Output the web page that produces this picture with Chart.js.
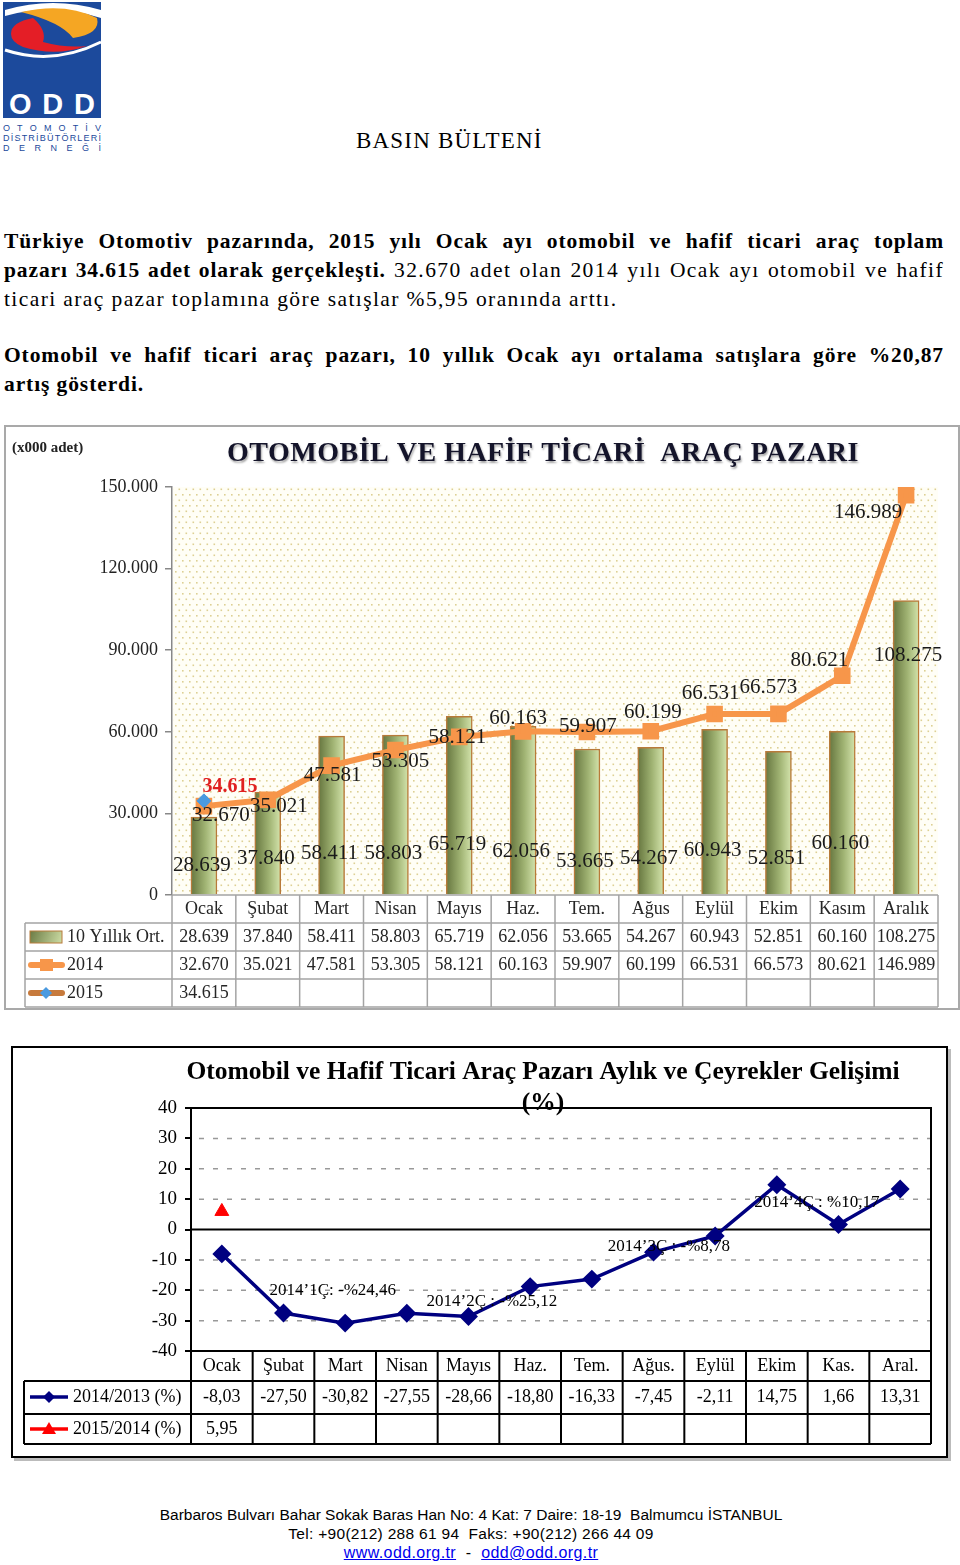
<!DOCTYPE html>
<html>
<head>
<meta charset="utf-8">
<title>Basın Bülteni</title>
<script src="https://cdn.jsdelivr.net/npm/chart.js@4.4.1/dist/chart.umd.min.js"></script>
<style>
  body { margin:0; width:960px; height:1565px; position:relative; background:#fff; font-family:"Liberation Serif", serif; color:#000; overflow:hidden; }
  .abs { position:absolute; }
  .line { position:absolute; left:4px; width:940px; font-size:21.5px; line-height:29px; letter-spacing:1.4px; white-space:nowrap; }
  .line b { letter-spacing:0.9px; }
  .just { text-align:justify; text-align-last:justify; }
  #box1 { left:4px; top:425px; width:956px; height:585px; border:2px solid #a9a9a9; box-sizing:border-box; }
  #box2 { left:11px; top:1046px; width:937px; height:412px; border:2px solid #000; box-sizing:border-box; box-shadow:3px 3px 0 #bbb; }
  .foot { position:absolute; left:0; width:942px; text-align:center; font-family:"Liberation Sans", sans-serif; font-size:15.5px; line-height:19px; }
  .foot a { color:#0000ee; }
</style>
</head>
<body>

<!-- logo -->
<svg class="abs" style="left:3px;top:2px" width="100" height="150">
  <rect x="0" y="0" width="98" height="116" fill="#1c4a9c"/>
  <path d="M2,8 Q50,-6 98,8 L98,16 Q50,0 2,14 Z" fill="#fff"/>
  <path d="M18,10 Q62,0 94,16 Q98,32 70,36 Q58,20 18,10 Z" fill="#f5a623"/>
  <path d="M8,32 Q8,20 30,16 Q44,28 40,40 Q62,46 84,44 Q52,55 20,45 Q8,40 8,32 Z" fill="#e41e26"/>
  <path d="M2,48 Q50,64 98,40" stroke="#fff" stroke-width="3" fill="none"/>
  <text x="6" y="112" fill="#fff" font-family="Liberation Sans" font-weight="bold" font-size="29" textLength="86">ODD</text>
  <text x="0" y="129" fill="#1c4a9c" font-family="Liberation Sans" font-size="9" textLength="98">O T O M O T İ V</text>
  <text x="0" y="139" fill="#1c4a9c" font-family="Liberation Sans" font-size="9" textLength="98">DİSTRİBÜTÖRLERİ</text>
  <text x="0" y="149" fill="#1c4a9c" font-family="Liberation Sans" font-size="9" textLength="98">D E R N E Ğ İ</text>
</svg>

<div class="abs" style="left:356px;top:128px;font-size:23px;letter-spacing:1.2px;">BASIN BÜLTENİ</div>

<div class="line just" style="top:227px;"><b>Türkiye Otomotiv pazarında, 2015 yılı Ocak ayı otomobil ve hafif ticari araç toplam</b></div>
<div class="line just" style="top:256px;"><b>pazarı 34.615 adet olarak gerçekleşti.</b> 32.670 adet olan 2014 yılı Ocak ayı otomobil ve hafif</div>
<div class="line" style="top:285px;">ticari araç pazar toplamına göre satışlar %5,95 oranında arttı.</div>
<div class="line just" style="top:341px;"><b>Otomobil ve hafif ticari araç pazarı, 10 yıllık Ocak ayı ortalama satışlara göre %20,87</b></div>
<div class="line" style="top:370px;"><b>artış gösterdi.</b></div>

<div id="box1" class="abs"><canvas id="c1" width="952" height="581"></canvas></div>
<div id="box2" class="abs"><canvas id="c2" width="933" height="408"></canvas></div>

<div class="foot" style="top:1505px;">Barbaros Bulvarı Bahar Sokak Baras Han No: 4 Kat: 7 Daire: 18-19&nbsp; Balmumcu İSTANBUL</div>
<div class="foot" style="top:1524px;letter-spacing:0.3px;">Tel: +90(212) 288 61 94&nbsp; Faks: +90(212) 266 44 09</div>
<div class="foot" style="top:1543px;font-size:16px;letter-spacing:0.4px;"><a href="#">www.odd.org.tr</a>&nbsp; -&nbsp; <a href="#">odd@odd.org.tr</a></div>

<script>
// --- chart 1 data ---
var months1 = ['Ocak','Şubat','Mart','Nisan','Mayıs','Haz.','Tem.','Ağus','Eylül','Ekim','Kasım','Aralık'];
var avg10 = [28639,37840,58411,58803,65719,62056,53665,54267,60943,52851,60160,108275];
var sales2014 = [32670,35021,47581,53305,58121,60163,59907,60199,66531,66573,80621,146989];
var sales2015 = [34615,null,null,null,null,null,null,null,null,null,null,null];
var yTicks1 = [0,30000,60000,90000,120000,150000];

// --- chart 2 data ---
var months2 = ['Ocak','Şubat','Mart','Nisan','Mayıs','Haz.','Tem.','Ağus.','Eylül','Ekim','Kas.','Aral.'];
var chg2014 = [-8.03,-27.50,-30.82,-27.55,-28.66,-18.80,-16.33,-7.45,-2.11,14.75,1.66,13.31];
var chg2015 = [5.95,null,null,null,null,null,null,null,null,null,null,null];
var yTicks2 = [-40,-30,-20,-10,0,10,20,30,40];
var quarterNotes = ['2014’1Ç: -%24,46','2014’2Ç : -%25,12','2014’3Ç : -%8,78','2014’4Ç : %10,17'];

var SERIF = '"Liberation Serif", serif';

function thousands(n) { return String(n).replace(/\B(?=(\d{3})+(?!\d))/g, '.'); }
function comma(n) { return n.toFixed(2).replace('.', ','); }

function barGrad(c) {
  var ch = c.chart;
  if (!ch.chartArea) return '#9aab6a';
  var x = ch.scales.x.getPixelForValue(c.dataIndex);
  var g = ch.ctx.createLinearGradient(x - 13, 0, x + 13, 0);
  g.addColorStop(0, '#66763f');
  g.addColorStop(0.55, '#a0b373');
  g.addColorStop(1, '#d4e4ad');
  return g;
}

function dotPattern(ctx) {
  var p = document.createElement('canvas');
  p.width = 7; p.height = 11;
  var g = p.getContext('2d');
  g.fillStyle = '#fffef6'; g.fillRect(0, 0, 7, 11);
  g.fillStyle = '#ddd093';
  g.fillRect(1, 1, 1.6, 1.6);
  g.fillRect(4.5, 6.5, 1.6, 1.6);
  return ctx.createPattern(p, 'repeat');
}

// label placement tweaks (pixels), bars measured from the x axis, line labels from the point
var barLabelRise = [30, 37, 42, 42, 51, 44, 34, 37, 45, 37, 52, 240];
var lineLabelShift = [[17,9],[11,7],[1,10],[5,11],[-2,1],[-5,-13],[1,-6],[2,-19],[-4,-21],[-10,-26],[-23,-15],[-38,17]];

var chart1Deco = {
  id: 'chart1Deco',
  beforeDatasetsDraw: function(chart) {
    var a = chart.chartArea, ctx = chart.ctx;
    ctx.save();
    ctx.fillStyle = dotPattern(ctx);
    ctx.fillRect(a.left + 1, a.top, a.right - a.left - 1, a.bottom - a.top);
    ctx.restore();
  },
  afterDatasetsDraw: function(chart) {
    var ctx = chart.ctx, xs = chart.scales.x, ys = chart.scales.y;
    ctx.save();
    ctx.font = '21px ' + SERIF;
    ctx.textAlign = 'center';
    ctx.textBaseline = 'middle';
    ctx.fillStyle = '#1a1a1a';
    avg10.forEach(function(v, i) {
      ctx.fillText(thousands(v), xs.getPixelForValue(i) - 2 + (i == 11 ? 4 : 0), ys.getPixelForValue(0) - barLabelRise[i]);
    });
    sales2014.forEach(function(v, i) {
      ctx.fillText(thousands(v), xs.getPixelForValue(i) + lineLabelShift[i][0], ys.getPixelForValue(v) + lineLabelShift[i][1]);
    });
    ctx.font = 'bold 20px ' + SERIF;
    ctx.fillStyle = '#e02020';
    ctx.fillText(thousands(sales2015[0]), xs.getPixelForValue(0) + 26, ys.getPixelForValue(sales2015[0]) - 14);
    ctx.restore();
  },
  afterDraw: function(chart) {
    var ctx = chart.ctx, a = chart.chartArea, xs = chart.scales.x;
    ctx.save();
    // titles
    ctx.textBaseline = 'middle';
    ctx.font = 'bold 15px ' + SERIF;
    ctx.fillStyle = '#222';
    ctx.textAlign = 'left';
    ctx.fillText('(x000 adet)', 6, 21);
    ctx.font = 'bold 28px ' + SERIF;
    ctx.letterSpacing = '0.5px';
    ctx.textAlign = 'center';
    ctx.shadowColor = 'rgba(0,0,0,0.35)';
    ctx.shadowOffsetX = 1; ctx.shadowOffsetY = 2; ctx.shadowBlur = 2;
    ctx.fillStyle = '#14142a';
    ctx.fillText('OTOMOBİL VE HAFİF TİCARİ  ARAÇ PAZARI', 537, 27);
    ctx.shadowColor = 'transparent';
    ctx.letterSpacing = '0px';

    // data table
    var colW = (a.right - a.left) / months1.length;
    var top = a.bottom, rowH = 28, legL = 19;
    var rows = [top, top + rowH, top + 2 * rowH, top + 3 * rowH, top + 4 * rowH];
    ctx.strokeStyle = '#a4a4a4';
    ctx.lineWidth = 1.5;
    ctx.beginPath();
    for (var r = 1; r < rows.length; r++) { ctx.moveTo(legL, rows[r]); ctx.lineTo(a.right, rows[r]); }
    ctx.moveTo(a.left, rows[0]); ctx.lineTo(a.right, rows[0]);
    ctx.moveTo(legL, rows[1]); ctx.lineTo(legL, rows[4]);
    for (var c = 0; c <= months1.length; c++) {
      var x = a.left + c * colW;
      ctx.moveTo(x, rows[0]); ctx.lineTo(x, rows[4]);
    }
    ctx.stroke();

    ctx.fillStyle = '#262626';
    ctx.font = '18px ' + SERIF;
    ctx.textAlign = 'center';
    months1.forEach(function(m, i) {
      var cx = xs.getPixelForValue(i);
      ctx.fillText(m, cx, rows[0] + 14);
      ctx.fillText(thousands(avg10[i]), cx, rows[1] + 14);
      ctx.fillText(thousands(sales2014[i]), cx, rows[2] + 14);
      if (sales2015[i] != null) ctx.fillText(thousands(sales2015[i]), cx, rows[3] + 14);
    });

    // legend keys
    var ly1 = rows[1] + 14, ly2 = rows[2] + 14, ly3 = rows[3] + 14;
    var g = ctx.createLinearGradient(24, ly1 - 6, 56, ly1 + 6);
    g.addColorStop(0, '#6b7b44'); g.addColorStop(1, '#cddda5');
    ctx.fillStyle = g;
    ctx.fillRect(24, ly1 - 6, 32, 12);
    ctx.strokeStyle = '#b87a3a'; ctx.lineWidth = 1;
    ctx.strokeRect(24, ly1 - 6, 32, 12);

    ctx.strokeStyle = '#f7964a'; ctx.lineWidth = 6; ctx.lineCap = 'round';
    ctx.beginPath(); ctx.moveTo(25, ly2); ctx.lineTo(56, ly2); ctx.stroke();
    ctx.fillStyle = '#f7964a'; ctx.fillRect(34, ly2 - 6, 13, 12);

    ctx.strokeStyle = '#c77a3c';
    ctx.beginPath(); ctx.moveTo(25, ly3); ctx.lineTo(56, ly3); ctx.stroke();
    ctx.fillStyle = '#4a9ae0';
    ctx.beginPath(); ctx.moveTo(40, ly3 - 6); ctx.lineTo(46, ly3); ctx.lineTo(40, ly3 + 6); ctx.lineTo(34, ly3); ctx.closePath(); ctx.fill();

    ctx.fillStyle = '#262626';
    ctx.textAlign = 'left';
    ctx.fillText('10 Yıllık Ort.', 61, ly1);
    ctx.fillText('2014', 61, ly2);
    ctx.fillText('2015', 61, ly3);
    ctx.restore();
  }
};

new Chart(document.getElementById('c1'), {
  type: 'bar',
  data: {
    labels: months1,
    datasets: [
      { type: 'line', label: '2015', data: sales2015, order: 0, showLine: false,
        pointStyle: 'rectRot', pointRadius: 7, backgroundColor: '#4a9ae0', borderColor: '#4a9ae0' },
      { type: 'line', label: '2014', data: sales2014, order: 1, borderColor: '#f7964a', borderWidth: 6,
        pointStyle: 'rect', pointRadius: 7.5, backgroundColor: '#f7964a', pointBorderColor: '#f7964a', tension: 0 },
      { type: 'bar', label: '10 Yıllık Ort.', data: avg10, order: 2, barThickness: 26,
        backgroundColor: barGrad, borderColor: '#b87a3a', borderWidth: 1.5, borderSkipped: 'bottom' }
    ]
  },
  options: {
    responsive: false,
    animation: false,
    events: [],
    layout: { padding: { left: 0, right: 20, top: 60, bottom: 113 } },
    plugins: { legend: { display: false }, tooltip: { enabled: false } },
    scales: {
      x: { display: false, offset: true },
      y: {
        min: 0, max: 150000,
        afterBuildTicks: function(s) { s.ticks = yTicks1.map(function(v) { return { value: v }; }); },
        afterFit: function(s) { s.width = 166; },
        ticks: { font: { family: SERIF, size: 18 }, color: '#222', padding: 7,
                 callback: function(v) { return thousands(v); } },
        grid: { drawOnChartArea: false, tickLength: 7, color: '#888', lineWidth: 1.5 },
        border: { color: '#888', width: 1.5 }
      }
    }
  },
  plugins: [chart1Deco]
});

// --- chart 2 ---
var noteSpots = [[1.8, -20.1], [4.38, -23.8], [7.25, -5.6], [9.65, 8.9]];

var chart2Deco = {
  id: 'chart2Deco',
  beforeDatasetsDraw: function(chart) {
    var ctx = chart.ctx, a = chart.chartArea, ys = chart.scales.y;
    ctx.save();
    ctx.strokeStyle = '#999';
    ctx.lineWidth = 1.5;
    ctx.setLineDash([5, 9]);
    yTicks2.forEach(function(v) {
      if (v == 0 || Math.abs(v) == 40) return;
      var y = ys.getPixelForValue(v);
      ctx.beginPath(); ctx.moveTo(a.left + 8, y); ctx.lineTo(a.right, y); ctx.stroke();
    });
    ctx.setLineDash([]);
    ctx.strokeStyle = '#000';
    ctx.lineWidth = 2;
    var y0 = ys.getPixelForValue(0);
    ctx.beginPath();
    ctx.moveTo(a.left, y0); ctx.lineTo(a.right, y0);
    ctx.moveTo(a.left, a.top); ctx.lineTo(a.right, a.top); ctx.lineTo(a.right, a.bottom);
    ctx.stroke();
    ctx.restore();
  },
  afterDraw: function(chart) {
    var ctx = chart.ctx, a = chart.chartArea, xs = chart.scales.x, ys = chart.scales.y;
    ctx.save();
    ctx.fillStyle = '#000';
    ctx.textAlign = 'center';
    ctx.textBaseline = 'middle';
    ctx.font = '17px ' + SERIF;
    quarterNotes.forEach(function(t, i) {
      var s = noteSpots[i];
      var x0 = xs.getPixelForValue(Math.floor(s[0])), x1 = xs.getPixelForValue(Math.floor(s[0]) + 1);
      ctx.fillText(t, x0 + (x1 - x0) * (s[0] - Math.floor(s[0])), ys.getPixelForValue(s[1]));
    });
    ctx.font = 'bold 25.5px ' + SERIF;
    ctx.fillText('Otomobil ve Hafif Ticari Araç Pazarı Aylık ve Çeyrekler Gelişimi', 530, 24);
    ctx.fillText('(%)', 530, 55);

    // table
    var colW = (a.right - a.left) / months2.length;
    var rows = [a.bottom, a.bottom + 30, a.bottom + 63, a.bottom + 93];
    var legL = 11;
    ctx.strokeStyle = '#000';
    ctx.lineWidth = 2;
    ctx.beginPath();
    ctx.moveTo(a.left, rows[0]); ctx.lineTo(a.right, rows[0]);
    for (var r = 1; r < rows.length; r++) { ctx.moveTo(legL, rows[r]); ctx.lineTo(a.right, rows[r]); }
    ctx.moveTo(legL, rows[1]); ctx.lineTo(legL, rows[3]);
    for (var c = 0; c <= months2.length; c++) {
      var x = a.left + c * colW;
      ctx.moveTo(x, rows[0]); ctx.lineTo(x, rows[3]);
    }
    ctx.stroke();

    ctx.font = '18px ' + SERIF;
    months2.forEach(function(m, i) {
      var cx = xs.getPixelForValue(i);
      ctx.fillText(m, cx, rows[0] + 15);
      ctx.fillText(comma(chg2014[i]), cx, rows[1] + 16);
      if (chg2015[i] != null) ctx.fillText(comma(chg2015[i]), cx, rows[2] + 15);
    });

    var ly1 = rows[1] + 16, ly2 = rows[2] + 15;
    ctx.lineWidth = 3.5;
    ctx.strokeStyle = '#000080';
    ctx.beginPath(); ctx.moveTo(17, ly1); ctx.lineTo(55, ly1); ctx.stroke();
    ctx.fillStyle = '#000080';
    ctx.beginPath(); ctx.moveTo(36, ly1 - 6); ctx.lineTo(42, ly1); ctx.lineTo(36, ly1 + 6); ctx.lineTo(30, ly1); ctx.closePath(); ctx.fill();
    ctx.strokeStyle = '#ff0000';
    ctx.beginPath(); ctx.moveTo(17, ly2); ctx.lineTo(55, ly2); ctx.stroke();
    ctx.fillStyle = '#ff0000';
    ctx.beginPath(); ctx.moveTo(36, ly2 - 7); ctx.lineTo(43, ly2 + 5); ctx.lineTo(29, ly2 + 5); ctx.closePath(); ctx.fill();

    ctx.fillStyle = '#000';
    ctx.textAlign = 'left';
    ctx.fillText('2014/2013 (%)', 60, ly1);
    ctx.fillText('2015/2014 (%)', 60, ly2);
    ctx.restore();
  }
};

new Chart(document.getElementById('c2'), {
  type: 'line',
  data: {
    labels: months2,
    datasets: [
      { label: '2015/2014 (%)', data: chg2015, showLine: false, pointStyle: 'triangle', pointRadius: 8,
        backgroundColor: '#ff0000', borderColor: '#ff0000' },
      { label: '2014/2013 (%)', data: chg2014, borderColor: '#000080', borderWidth: 3.5, tension: 0,
        pointStyle: 'rectRot', pointRadius: 7, backgroundColor: '#000080', pointBorderColor: '#000080' }
    ]
  },
  options: {
    responsive: false,
    animation: false,
    events: [],
    layout: { padding: { left: 0, right: 15, top: 60, bottom: 105 } },
    plugins: { legend: { display: false }, tooltip: { enabled: false } },
    scales: {
      x: { display: false, offset: true },
      y: {
        min: -40, max: 40,
        afterBuildTicks: function(s) { s.ticks = yTicks2.map(function(v) { return { value: v }; }); },
        afterFit: function(s) { s.width = 178; },
        ticks: { font: { family: SERIF, size: 19 }, color: '#000', padding: 8 },
        grid: { drawOnChartArea: false, tickLength: 6, color: '#000', lineWidth: 2 },
        border: { color: '#000', width: 2 }
      }
    }
  },
  plugins: [chart2Deco]
});
</script>
</body>
</html>
